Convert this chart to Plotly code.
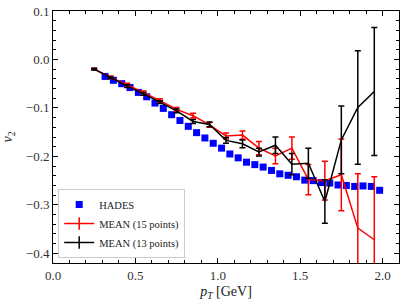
import plotly.graph_objects as go

# HADES data
hades_x = [0.316 + 0.0505 * i for i in range(34)]
hades_y = [-0.035, -0.043, -0.050, -0.058, -0.068, -0.077, -0.090, -0.101, -0.114, -0.126,
           -0.138, -0.151, -0.162, -0.173, -0.183, -0.195, -0.203, -0.212, -0.217, -0.222,
           -0.229, -0.236, -0.239, -0.242, -0.249, -0.250, -0.254, -0.255, -0.259, -0.260,
           -0.262, -0.261, -0.262, -0.270]

pt = [0.25, 0.35, 0.45, 0.55, 0.65, 0.75, 0.85, 0.95, 1.05,
      1.15, 1.25, 1.35, 1.45, 1.55, 1.65, 1.75, 1.85, 1.95]

mean15_y = [-0.020, -0.037, -0.052, -0.068, -0.085, -0.103, -0.116, -0.135, -0.158,
            -0.156, -0.183, -0.199, -0.183, -0.248, -0.250, -0.238, -0.348, -0.372]
mean15_err = [0.002, 0.003, 0.003, 0.003, 0.004, 0.004, 0.005, 0.005, 0.006,
              0.0085, 0.0137, 0.016, 0.023, 0.031, 0.040, 0.074, 0.112, 0.130]

mean13_y = [-0.020, -0.038, -0.055, -0.071, -0.088, -0.106, -0.128, -0.134, -0.167,
            -0.174, -0.191, -0.177, -0.216, -0.214, -0.293, -0.166, -0.099, -0.066]
mean13_err = [0.002, 0.002, 0.003, 0.003, 0.003, 0.004, 0.004, 0.005, 0.006,
              0.008, 0.008, 0.017, 0.022, 0.031, 0.045, 0.070, 0.117, 0.132]

font = "Liberation Serif"

fig = go.Figure()

fig.add_trace(go.Scatter(
    x=hades_x, y=hades_y, mode="markers", name="HADES",
    marker=dict(symbol="square", size=7, color="#0000ff", line=dict(width=0)),
))

fig.add_trace(go.Scatter(
    x=pt, y=mean15_y, mode="lines", showlegend=False,
    line=dict(color="#ff0000", width=1.5),
    error_y=dict(type="data", array=mean15_err, color="#ff0000", thickness=1.5, width=3),
))
fig.add_trace(go.Scatter(
    x=pt, y=mean13_y, mode="lines", showlegend=False,
    line=dict(color="black", width=1.5),
    error_y=dict(type="data", array=mean13_err, color="black", thickness=1.5, width=3),
))

# legend entries
fig.add_trace(go.Scatter(
    x=[None], y=[None], mode="lines+markers", name="MEAN (15 points)",
    line=dict(color="#ff0000", width=1.5),
    marker=dict(symbol="line-ns-open", size=9, color="#ff0000", line=dict(width=1.5, color="#ff0000")),
))
fig.add_trace(go.Scatter(
    x=[None], y=[None], mode="lines+markers", name="MEAN (13 points)",
    line=dict(color="black", width=1.5),
    marker=dict(symbol="line-ns-open", size=9, color="black", line=dict(width=1.5, color="black")),
))

axis_common = dict(
    showline=True, linecolor="black", linewidth=1, mirror="allticks",
    ticks="inside", ticklen=5, tickcolor="black", tickwidth=1,
    showgrid=False, zeroline=False, automargin=False,
    tickfont=dict(family=font, size=13, color="#333333"),
)

fig.update_xaxes(
    range=[0, 2.1], tickvals=[0, 0.5, 1.0, 1.5, 2.0], tickformat=".1f",
    minor=dict(ticks="inside", ticklen=3, dtick=0.1, tick0=0, tickcolor="black", showgrid=False),
    title=dict(text="<i>p</i><sub><i>T</i></sub>&nbsp;[GeV]", font=dict(family=font, size=14, color="#222222"), standoff=4),
    **axis_common,
)
fig.update_yaxes(
    range=[-0.42, 0.1], tickvals=[0.1, 0.0, -0.1, -0.2, -0.3, -0.4], tickformat=".1f",
    minor=dict(ticks="inside", ticklen=3, dtick=0.02, tick0=0, tickcolor="black", showgrid=False),
    title=dict(text="<i>v</i><sub>2</sub>", font=dict(family=font, size=14, color="#222222"), standoff=10),
    **axis_common,
)

fig.update_layout(
    width=407, height=305,
    margin=dict(l=53, r=8, t=11, b=42),
    paper_bgcolor="white", plot_bgcolor="white",
    showlegend=True,
    legend=dict(
        x=0.015, y=0.02, xanchor="left", yanchor="bottom",
        bgcolor="rgba(255,255,255,0.9)", bordercolor="#cccccc", borderwidth=1,
        font=dict(family=font, size=10.5, color="#222222"),
        itemwidth=30, tracegroupgap=0,
    ),
)

fig.write_html("out.html", config={"displayModeBar": False},
               post_script="document.body.style.margin='0';")
